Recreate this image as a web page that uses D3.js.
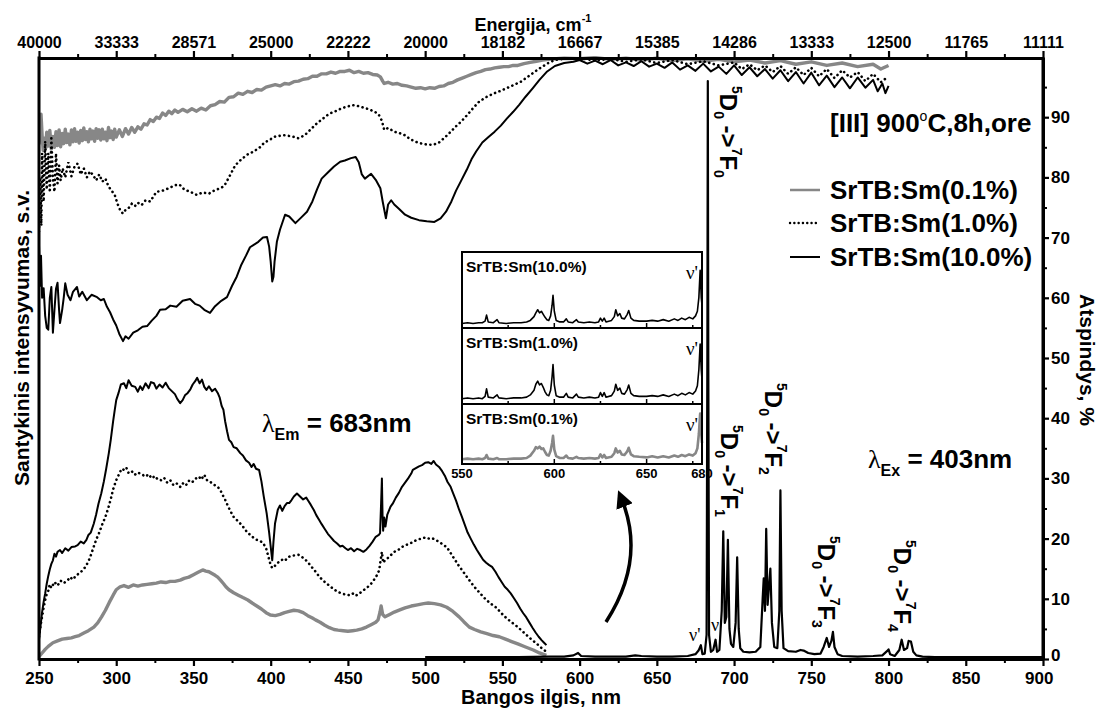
<!DOCTYPE html>
<html><head><meta charset="utf-8">
<script src="https://cdn.jsdelivr.net/npm/d3@7"></script>
<style>
body{margin:0;background:#fff}
svg{display:block;font-family:"Liberation Sans",Arial,sans-serif;font-weight:bold}
</style>
</head><body>
<svg id="c" width="1102" height="708"></svg>
<script>
// ---------------- DATA ----------------
const majorTicks = [250,300,350,400,450,500,550,600,650,700,750,800,850,900];
const minorTicks = [275,325,375,425,475,525,575,625,675,725,775,825,875];
const topTickLabels = ["40000","33333","28571","25000","22222","20000","18182","16667","15385","14286","13333","12500","11765","11111"];
const rightTicks = [0,10,20,30,40,50,60,70,80,90];
const rightMinor = [5,15,25,35,45,55,65,75,85,95];
const seriesNames = ["SrTB:Sm(0.1%)","SrTB:Sm(1.0%)","SrTB:Sm(10.0%)"];

// Reflectance (%), right axis
const reflGrey = [[250,85.5],[250.7,88.5],[251.3,90.5],[252,87],[252.7,84.5],[253.5,86.5],[254.3,84.8],[255,87.5],[256,85.2],[257,87.8],[258,84.7],[259,86.8],[260,85.0],[261,87.6],[262,85.3],[263,87.9],[264,85.1],[265,87.3],[266,85.6],[267,88.0],[268,85.8],[269,87.2],[270,85.4],[271,87.9],[272,85.9],[273,88.1],[274,86.0],[275,87.5],[276,85.7],[277,87.8],[278,86.1],[279,88.2],[280,86.3],[281,87.6],[282,85.9],[283,88.0],[284,86.4],[285,87.7],[286,86.0],[287,88.1],[288,86.5],[289,87.9],[290,86.2],[291,88.0],[292,86.4],[293,87.5],[294,86.1],[295,88.3],[296,86.6],[297,87.7],[298,86.3],[299,88.0],[300,86.7],[302,87.9],[304,86.8],[306,88.1],[308,87.2],[310,88.3],[312,87.5],[314,88.4],[316,88.0],[318,88.9],[320,88.7],[322,89.6],[324,89.3],[326,90.0],[328,89.8],[330,90.7],[332,90.3],[334,91.0],[336,90.6],[338,91.2],[340,90.8],[343,91.3],[346,90.9],[349,91.4],[352,91.0],[355,91.5],[358,91.2],[361,91.9],[364,92.1],[367,92.6],[370,92.5],[373,93.3],[376,93.4],[379,94.0],[382,93.8],[385,94.3],[388,94.1],[391,94.6],[394,94.5],[397,95.0],[400,95.2],[403,95.4],[406,95.2],[409,95.6],[412,95.5],[415,95.9],[418,96.0],[421,96.3],[424,96.4],[427,96.8],[430,96.8],[433,97.2],[436,97.2],[439,97.5],[442,97.3],[445,97.6],[448,97.6],[451,97.8],[454,97.4],[457,97.6],[460,97.3],[463,97.4],[466,97.1],[469,97.0],[471,96.7],[472.5,96.0],[473.5,95.6],[476,95.8],[479,95.5],[482,95.6],[485,95.3],[488,95.2],[491,95.0],[494,94.8],[497,94.9],[500,94.7],[503,94.9],[506,94.8],[509,95.1],[512,95.2],[515,95.6],[518,95.8],[521,96.2],[524,96.5],[527,96.8],[530,97.1],[533,97.4],[536,97.6],[539,97.9],[542,98.0],[545,98.2],[548,98.3],[551,98.4],[554,98.4],[557,98.6],[560,98.6],[564,98.9],[568,99.1],[572,99.3],[576,99.5],[580,99.6],[585,99.7],[590,99.8],[600,99.7],[610,99.9],[620,99.6],[630,99.8],[640,99.5],[650,99.8],[660,99.4],[670,99.7],[680,99.3],[690,99.6],[700,99.2],[710,99.5],[720,99.0],[730,99.4],[740,98.8],[750,99.2],[760,98.6],[770,99.0],[780,98.4],[790,98.8],[795,98.0],[800,98.6]];

const reflDot = [[250,71],[250.8,80],[251.5,72],[252,84],[253,76],[254,86],[255,78],[256,84],[257,77.5],[258,86.5],[259,80],[260,77.6],[261,84],[262,79],[263,82],[264,79.5],[265.3,81.5],[267,80],[269,82.5],[271,80.2],[273,81.8],[275,82.3],[277,80.5],[279,81.5],[281,80],[283,81],[285,80.4],[287,79.5],[289,80.5],[291,79.3],[293,79.8],[295,78.5],[297,77.8],[299,77.1],[301,75.5],[303,74.3],[304.5,74],[306,74.6],[308,74.9],[310,75.6],[312,75.2],[314,75.8],[316.4,75.4],[319,76.2],[322,76.0],[326,77.6],[330,77.8],[334,78.2],[338,78.7],[341,78.8],[344,78.0],[348,77.6],[352,77.1],[356,77.5],[360,77.3],[364,77.9],[367.5,78.2],[370,78.6],[374,80.5],[377,82],[381,83.0],[385,83.8],[389,84.3],[393,85.0],[396,85.8],[399,86.2],[403,86.8],[409,87],[414,86.8],[418,86.5],[422,87.0],[426,88.0],[430,89.0],[434,89.8],[438,90.6],[442,91.0],[446,91.5],[450,91.8],[453,92],[456,91.9],[460,91.6],[464,91.3],[468,90.8],[470,90.4],[472,89.4],[473.5,87.9],[476,88.2],[480,87.6],[484,87.3],[487,87],[490,86.4],[493,86.0],[496.5,85.7],[500,85.5],[505,85.4],[509,85.8],[513,86.7],[517,87.7],[520,88.5],[523,89.2],[527,90.3],[531,91.5],[535,92.6],[540,93.4],[545,94.0],[550,94.5],[556,95.2],[562,95.9],[568,97.0],[574,98.1],[579,98.9],[584,99.5],[590,99.7],[600,99.8],[610,99.4],[620,99.7],[630,99.2],[640,99.6],[650,99.0],[660,99.5],[670,98.8],[680,99.3],[690,98.6],[700,99.1],[705,98.0],[710,98.8],[715,97.8],[720,98.6],[725,97.5],[730,98.5],[735,97.2],[740,98.3],[745,97.0],[750,98.2],[755,96.8],[760,98.0],[765,96.5],[770,97.8],[775,96.6],[780,97.5],[785,96.0],[790,97.2],[795,95.8],[800,96.8]];

const reflSolid = [[250,68.8],[250.7,62],[251.3,67],[252,60],[253,61.6],[254,57],[255,55],[256,54.7],[257,60],[258,61.8],[259,54.2],[260,58],[261,61.5],[262,62.5],[263,58],[263.6,55.8],[265,58],[266,60],[267,62.4],[268.5,60.5],[270.4,59.6],[272,61],[274.6,61.8],[276,60.2],[278,61],[281,59.6],[284,60.5],[287.6,60.1],[290,59.6],[292,59.8],[294,58.5],[296,57.6],[298,56.4],[300,55.4],[302,54],[304.4,52.8],[306,53.6],[308,53.2],[311,54.2],[314,54.6],[317,55.2],[320,55.3],[323,56.2],[326,57.0],[328.4,58],[332,58.1],[335,58.7],[339,58.5],[343,59.5],[347.8,59.8],[351,59.0],[354,58.7],[357,58.0],[360.7,57.5],[364,58.6],[368,59.5],[371.7,60.1],[375,62.0],[378,63.5],[381,65.5],[384,67.0],[386.6,68.4],[389,68.8],[392,69.3],[395,70.0],[397.6,70.1],[399,68.5],[400,66],[401,62.7],[401.8,63.5],[402.5,66],[404,69.3],[406,71.3],[409.3,73.8],[412,73.5],[416,72.4],[420,73.4],[423.5,74.3],[427,76],[430,78],[433,79.8],[437,80.8],[441,81.8],[445,82.6],[448,82.8],[452,83.2],[455,83.4],[457,82.5],[459,80.5],[461,79.8],[465,80.6],[468,79.6],[471,78.2],[472.5,76],[474.6,73.2],[476,75.5],[478,76.2],[480,75.5],[483,74.8],[487,73.8],[491,73.3],[496,72.9],[501,72.7],[506,72.6],[510,73.2],[513.5,74.3],[517,76],[520,77.8],[523,79.3],[527,81.3],[530,83],[533,84.3],[537,85.8],[541,86.7],[545,87.6],[549,88.6],[553,89.8],[557,90.9],[561,92.1],[565,93.4],[569.6,94.8],[574,96.2],[579,97.6],[584,98.5],[590,99.0],[596,99.2],[600,99.5],[605,98.9],[610,99.4],[615,98.8],[620,99.5],[625,98.6],[630,99.1],[635,98.5],[640,99.3],[645,98.4],[650,98.9],[655,98.2],[660,99.1],[665,97.9],[670,98.6],[675,97.7],[680,98.9],[685,97.6],[690,98.4],[695,97.2],[700,98.6],[705,97.0],[710,98.3],[715,96.8],[720,98.0],[725,96.4],[730,97.8],[735,96.0],[740,97.5],[745,95.6],[750,97.4],[755,95.3],[760,96.9],[765,95.0],[770,96.6],[775,94.8],[780,96.6],[785,94.9],[790,96.2],[793,94.3],[796,95.6],[798,94.0],[800,95.2]];

// Excitation spectra (lambda_Em = 683 nm), relative intensity
const exSolid = [[250,3.2],[251,5.5],[252,7.8],[253,9.5],[254,10.9],[255,12.5],[256,13.8],[257,14.9],[258,15.8],[259,16.4],[260,17.5],[261,17.0],[262,17.8],[263.6,18.1],[265,17.6],[267,18.4],[269,18.0],[271,18.6],[273.4,18.7],[275,18.9],[277,19.5],[279,19.2],[280.7,19.8],[282,20.6],[283.5,21.0],[285.5,22.5],[287,24.0],[288.5,25.8],[290.3,27.5],[292,29.5],[293.5,31.6],[295.2,34.2],[296.5,36.5],[298,39.5],[299,41.3],[300,43],[301.5,44.2],[303,45.6],[305,45.8],[306.5,45.0],[308,46.3],[310,45.4],[312.3,45.2],[314,44.4],[315.5,45.3],[317,44.7],[319,45.8],[321,45.0],[322.5,46.0],[324.4,45.8],[326,44.9],[328,45.6],[330,45.1],[332,45.9],[334,45.0],[336,44.5],[338,44.0],[339.5,43.2],[341.4,42.5],[343,43.0],[344.5,43.8],[346.3,44.2],[348,44.8],[349.5,45.6],[351,46.1],[352.4,46.7],[354,45.8],[355.5,46.4],[357,45.2],[358.4,44.7],[360,45.3],[362,44.5],[364,44.9],[365.7,44.2],[367,43.4],[368.3,42.0],[369.4,41.4],[370.5,39.5],[371.8,37.8],[373,36.4],[374.5,36.0],[376,35.2],[378,35.0],[380.3,34.2],[382,33.8],[384,33.0],[386,32.6],[387.6,31.9],[389,32.4],[390.5,31.6],[392.5,31.4],[394,29.5],[395.5,27.0],[397.4,24.2],[399,21.0],[400.3,18.0],[401,16.4],[401.8,19.5],[402.8,22.5],[404.6,24.8],[406,25.5],[407.5,24.6],[409,25.4],[410.5,25.9],[412,25.9],[413.5,26.4],[415,27.0],[417,27.5],[419,27.0],[421,26.5],[423,26.8],[424,26.4],[426,25.6],[428,24.7],[429.5,23.9],[431.4,23.1],[433,22.4],[435,21.6],[437,20.8],[438.7,20.3],[441,19.6],[443,19.2],[445,18.7],[446.5,18.8],[448.4,18.4],[450,18.1],[452,18.4],[454,17.9],[456,18.3],[458,18.1],[460,17.8],[462,18.2],[464,18.8],[466,19.5],[468,20.3],[470,20.6],[470.8,20.9],[471.5,26],[472,30],[472.4,24],[472.8,21.3],[473.5,23.5],[474.3,22.0],[475.5,24.0],[477.6,25.3],[479,25.8],[481,26.8],[483,27.6],[485,28.6],[487,29.3],[489,30.0],[491,30.8],[492,31.4],[494,31.7],[496,32.0],[498,32.2],[500,32.6],[502,32.7],[504,32.4],[505.5,32.9],[507,32.3],[509,31.9],[511,31.2],[513,30.3],[514.5,29.4],[516.5,28.6],[518,27.6],[520,26.3],[522,24.8],[523.8,23.6],[525.5,22.4],[527.5,21.0],[529.5,20.0],[531.5,19.0],[533.5,18.1],[535.5,17.3],[537.5,16.5],[539.5,16.0],[541.5,15.6],[543.3,15.3],[545.5,14.5],[547.5,13.6],[549.5,12.8],[551.5,12.0],[553.5,11.5],[555.4,10.9],[557.5,10.1],[559.5,9.3],[561.5,8.4],[563.5,7.6],[565.5,6.9],[567.6,6.0],[569.5,5.2],[571.5,4.4],[573.5,3.7],[575.5,3.1],[577,2.7],[578.5,2.3]];

const exDot = [[250,3.7],[251,5.5],[252,7],[253,8.5],[254,9.8],[255,10.8],[256,11.3],[257,12.4],[258,11.8],[259,12.3],[260,12.8],[262,12.2],[264,13.0],[266,12.6],[268.7,13.1],[270,13.6],[272,13.2],[274,13.9],[276,14.2],[278.5,14.8],[280,15.3],[282,16.2],[283.5,17.2],[285.5,18.7],[287,19.8],[289,21.0],[291,22.4],[293,23.6],[295,25.2],[296.5,26.6],[298,28.2],[300,29.7],[302,30.8],[303.5,31.6],[305,31.4],[306.5,31.8],[308,30.9],[310,31.2],[312,30.6],[314,31.0],[317,30.6],[319,30.3],[321,30.7],[323,30.0],[325,30.4],[327,29.8],[329,29.7],[331,30.1],[333,29.3],[335,29.7],[337,28.9],[339,29.2],[341.4,28.6],[343,29.2],[345,28.8],[347,29.6],[349,29.3],[351,29.9],[353.6,30.3],[355,29.8],[357,30.6],[359,29.6],[361,29.4],[363,29.0],[365.7,28.6],[367.5,28.0],[369,27.2],[370.6,26.4],[372.5,25.3],[374.5,24.3],[376,23.6],[378,23.1],[380,22.6],[382,22.0],[383.5,21.5],[385.2,20.9],[387,20.6],[389,20.1],[391,19.8],[393,19.6],[395,19.3],[397,18.4],[398.5,17.0],[400,15.6],[401,15.1],[402.5,15.4],[404,15.9],[406,16.2],[408,16.6],[409.5,16.4],[411,16.9],[413,17.1],[415,17.2],[418,17.3],[420,17.0],[422,16.6],[424,16.1],[426.5,15.3],[428.5,14.7],[430.5,14.0],[432.5,13.4],[434.5,12.9],[436.5,12.5],[438.7,12.0],[441,11.6],[443,11.2],[445,11.0],[447,10.8],[449,10.7],[450.9,10.6],[453,10.9],[455,10.5],[457,10.8],[459,11.2],[461,11.6],[463,12.0],[465,12.5],[467,13.2],[469,14.0],[470.3,14.8],[471.2,16.5],[472,17.8],[472.8,16.0],[474,16.4],[476,16.8],[478,17.3],[480,17.8],[482.5,18.1],[485,18.6],[487.5,18.9],[490,19.2],[492,19.4],[494,19.7],[496,19.9],[498,20.0],[500,20.2],[502,20.0],[504,20.1],[506,19.9],[508,19.6],[510,19.3],[512,18.9],[514,18.6],[516,17.8],[518,17.0],[520,16.2],[522,15.4],[523.8,14.8],[526,14.0],[528,13.3],[530,12.6],[531.8,12.0],[533.5,11.5],[536,10.8],[538.5,10.1],[541,9.5],[543.5,9.0],[545.7,8.6],[548,8.0],[550.5,7.3],[553,6.7],[555.5,6.2],[558,5.7],[560,5.3],[563,4.6],[566,3.9],[569,3.2],[572,2.6],[575,1.9],[578.5,1.2]];

const exGrey = [[250,0.4],[252,1.0],[254,1.6],[256,2.1],[259,2.7],[262,3.0],[265,3.3],[268,3.4],[271,3.5],[273.4,3.7],[276,3.9],[279,4.3],[282,4.7],[285.5,5.3],[288,6.0],[290.5,7.0],[293,8.1],[295.5,9.4],[298,10.6],[300,11.5],[302.5,12.0],[305,12.2],[308,11.9],[311,12.3],[314,12.1],[317,12.3],[320,12.4],[323,12.5],[326,12.6],[329,12.8],[332,12.7],[335,12.9],[338,12.9],[341.4,13.1],[344,13.4],[347,13.6],[350,14.0],[353,14.4],[356,14.8],[358,14.6],[360,14.5],[362,14.2],[364,13.9],[365.7,13.6],[367.5,13.1],[369.5,12.5],[371,12.0],[373,11.5],[376,11.0],[379,10.6],[382,10.2],[385.2,9.8],[388,9.3],[391,8.8],[394,8.3],[397,7.7],[399.8,7.3],[403,7.2],[406,7.4],[409,7.7],[412,7.9],[415,8.1],[418,8.0],[421,7.7],[424,7.2],[427,6.8],[429,6.5],[432,6.1],[435,5.6],[438,5.2],[441,4.9],[443.6,4.8],[447,4.7],[450,4.6],[453,4.7],[455.7,4.8],[459,5.0],[462,5.3],[465,5.7],[468,6.1],[469.5,6.5],[470.8,7.8],[471.5,8.8],[472.5,7.4],[474,7.0],[477,7.4],[480,7.8],[484,8.2],[487,8.5],[491,8.8],[495,9.0],[499,9.2],[502,9.3],[506,9.2],[510,9.0],[514,8.6],[518,7.9],[522,7.0],[525,6.2],[528.6,5.3],[532,4.9],[536,4.5],[540,4.2],[544,3.9],[548,3.7],[552,3.3],[556,2.9],[560,2.5],[565,2.0],[570,1.5],[574,1.0],[578.5,0.6]];

// Emission spectrum (lambda_Ex = 403 nm), 10.0%
const emission = [[500,0.3],[540,0.3],[560,0.3],[580,0.4],[590,0.4],[596,0.6],[599,1.0],[601,0.5],[610,0.4],[630,0.4],[636,0.6],[640,0.5],[650,0.4],[660,0.4],[670,0.5],[675,0.8],[677,1.4],[678.5,2.3],[679.5,0.8],[681,0.9],[682.2,4],[682.7,50],[683,96],[683.3,50],[683.8,4],[685,1.2],[686.5,1.5],[688,3.2],[689,1.2],[690.5,1.5],[692,8],[693,21.2],[694,6],[695,7],[696,19.8],[697,5],[698,2.5],[699.5,2],[701,6],[702,16.9],[703,5],[704,1.8],[706,1.2],[710,1.1],[714,1.2],[717,2],[718.5,10],[719.2,13.4],[720,8],[720.8,21.6],[721.7,9],[722.6,12],[723.5,15],[724.5,6],[726,2],[728,1.8],[729.3,8],[730,28],[730.8,8],[732,1.8],[735,1.3],[740,1.2],[743,1.5],[745,1.4],[748,1.0],[752,0.8],[756,0.9],[758,2],[760,3.5],[761.5,2],[763,3],[764,4.5],[765,2],[767,0.8],[770,0.5],[780,0.4],[790,0.5],[796,0.6],[799,1.3],[800,1.6],[801,0.8],[804,0.5],[807,1.5],[808.5,3.2],[810,1.5],[812,1.8],[813,3],[814.5,2.9],[816,1.2],[818,0.6],[822,0.4],[830,0.3],[850,0.3],[870,0.3],[900,0.3]];

// Inset (550-680 nm), % of panel height
const inset10 = [[550,6],[553,7],[556,6],[559,7],[561,7],[562.5,9],[563.3,17],[564.2,8],[567,7],[569,11],[570,7],[574,6],[578,7],[582,7],[585,8],[587,10],[589,15],[590,20],[591,24],[592,20],[593,22],[594,18],[595,14],[596,11],[597,10],[598,16],[598.8,30],[599.3,43],[600,22],[601,10],[603,8],[605,8],[606.5,12],[607.5,8],[610,7],[612,11],[613,8],[616,7],[619,8],[622,7],[624,8],[625,13],[626,9],[627,13],[628,8],[631,10],[632.5,15],[633.3,24],[634.3,16],[635.5,19],[636.5,13],[638,12],[639.5,18],[640.3,23],[641.5,13],[643,10],[646,9],[650,9],[653,10],[656,9],[659,11],[662,9],[665,12],[667,10],[669,13],[671,11],[673,14],[675,12],[676.5,16],[677.5,22],[678.3,40],[679,76],[679.6,40],[680,30]];
const inset1 = [[550,7],[553,8],[556,7],[559,8],[561,7],[562.5,10],[563.3,20],[564.2,9],[567,8],[569,12],[570,8],[574,7],[578,8],[582,8],[585,9],[587,12],[589,18],[590,26],[591,30],[592,25],[593,27],[594,22],[595,16],[596,12],[597,11],[598,18],[598.8,36],[599.3,52],[600,25],[601,11],[603,9],[605,9],[606.5,14],[607.5,9],[610,8],[612,13],[613,9],[616,8],[619,9],[622,8],[624,9],[625,15],[626,10],[627,15],[628,9],[631,11],[632.5,17],[633.3,26],[634.3,18],[635.5,21],[636.5,14],[638,13],[639.5,19],[640.3,25],[641.5,14],[643,11],[646,10],[650,10],[653,11],[656,10],[659,12],[662,10],[665,13],[667,11],[669,14],[671,12],[673,15],[675,13],[676.5,17],[677.5,24],[678.3,45],[679,79],[679.6,45],[680,32]];
const inset01 = [[550,8],[553,9],[556,8],[559,9],[561,8],[562.5,10],[563.3,15],[564.2,9],[567,8],[569,10],[570,8],[574,8],[578,9],[582,9],[585,10],[587,14],[589,22],[590,28],[591,26],[592,29],[593,25],[594,26],[595,20],[596,15],[597,14],[598,22],[598.8,35],[599.3,47],[600,24],[601,13],[603,10],[605,10],[606.5,14],[607.5,10],[610,9],[612,12],[613,10],[616,9],[619,10],[622,9],[624,10],[625,16],[626,11],[627,15],[628,10],[631,12],[632.5,18],[633.3,26],[634.3,19],[635.5,22],[636.5,16],[638,15],[639.5,21],[640.3,27],[641.5,16],[643,13],[646,12],[650,11],[653,13],[656,11],[659,13],[662,11],[665,14],[667,12],[669,15],[671,13],[673,16],[675,14],[676.5,18],[677.5,26],[678.3,50],[679,84],[679.6,50],[680,35]];
const insetTicks = [550,600,650,680];
const insetMinor = [575,625,675];

// ---------------- CHART ----------------
const svg = d3.select("#c");
svg.append("rect").attr("width",1102).attr("height",708).attr("fill","#fff");

const L=39, R=1043, T=58, B=659;
const x = d3.scaleLinear().domain([250,900]).range([L,R]);
const y = d3.scaleLinear().domain([0,100]).range([B,T-1]);
const GREY = "#878787";

const line = d3.line().x(d=>x(d[0])).y(d=>y(d[1]));

const plot = svg.append("g");
plot.append("clipPath").attr("id","clip").append("rect").attr("x",L).attr("y",T-2).attr("width",R-L).attr("height",B-T+4);
const pg = plot.append("g").attr("clip-path","url(#clip)");

function drawSeries(data, style){
  const p = pg.append("path").datum(data).attr("d",line).attr("fill","none");
  if(style==="grey") p.attr("stroke",GREY).attr("stroke-width",3.4).attr("stroke-linejoin","round");
  else if(style==="dot") p.attr("stroke","#000").attr("stroke-width",2.6).attr("stroke-dasharray","0.1 4.6").attr("stroke-linecap","round");
  else p.attr("stroke","#000").attr("stroke-width",2).attr("stroke-linejoin","round");
}
drawSeries(reflGrey,"grey");
drawSeries(exGrey,"grey");
drawSeries(reflDot,"dot");
drawSeries(exDot,"dot");
drawSeries(reflSolid,"solid");
drawSeries(exSolid,"solid");

// ---------------- INSET ----------------
const IL=462, IR=702;
const panelTops=[252,328,404], panelBots=[328,404,464];
const xi = d3.scaleLinear().domain([550,680]).range([IL,IR]);
const inset = svg.append("g");
inset.append("rect").attr("x",IL).attr("y",panelTops[0]).attr("width",IR-IL).attr("height",panelBots[2]-panelTops[0]).attr("fill","#fff");
const insetData=[inset10,inset1,inset01];
const insetLabels=["SrTB:Sm(10.0%)","SrTB:Sm(1.0%)","SrTB:Sm(0.1%)"];
insetData.forEach((d,i)=>{
  const yi = d3.scaleLinear().domain([0,100]).range([panelBots[i],panelTops[i]]);
  const ln = d3.line().x(p=>xi(p[0])).y(p=>yi(p[1]));
  inset.append("path").datum(d).attr("d",ln).attr("fill","none")
    .attr("stroke", i===2?GREY:"#000").attr("stroke-width", i===2?2.6:1.6).attr("stroke-linejoin","round");
  inset.append("text").attr("x",IL+4).attr("y",panelTops[i]+20).attr("font-size",15.5).text(insetLabels[i]);
  inset.append("text").attr("x",IR-16).attr("y",panelTops[i]+27).attr("font-family","Liberation Serif, Times New Roman, serif")
    .attr("font-weight","normal").attr("font-size",19).text("ν'");
  insetTicks.concat(insetMinor).forEach(t=>{
    inset.append("line").attr("x1",xi(t)).attr("x2",xi(t)).attr("y1",panelBots[i]).attr("y2",panelBots[i]-(insetMinor.includes(t)?3:5)).attr("stroke","#000").attr("stroke-width",1.5);
  });
});
inset.append("rect").attr("x",IL).attr("y",panelTops[0]).attr("width",IR-IL).attr("height",panelBots[2]-panelTops[0]).attr("fill","none").attr("stroke","#000").attr("stroke-width",2);
[328,404].forEach(yy=>inset.append("line").attr("x1",IL).attr("x2",IR).attr("y1",yy).attr("y2",yy).attr("stroke","#000").attr("stroke-width",1.8));
insetTicks.forEach(t=>inset.append("text").attr("x",xi(t)).attr("y",panelBots[2]+14).attr("text-anchor","middle").attr("font-size",13).text(t));

// emission drawn on top
pg.append("path").datum(emission).attr("d",line).attr("fill","none").attr("stroke","#000").attr("stroke-width",2.2).attr("stroke-linejoin","round");

// ---------------- AXES ----------------
function styleAxis(g,fs){
  g.select(".domain").attr("stroke-width",3);
  g.selectAll(".tick line").attr("stroke-width",2.2);
  g.selectAll(".tick text").attr("font-family","Liberation Sans, Arial, sans-serif").attr("font-weight","bold").attr("font-size",fs).attr("fill","#000");
}
const axB = svg.append("g").attr("transform",`translate(0,${B})`)
  .call(d3.axisBottom(x).tickValues(majorTicks).tickSize(7).tickSizeOuter(0).tickPadding(6).tickFormat(d3.format("d")));
styleAxis(axB,17);
// keep the last bottom label clear of the right-axis "0"
axB.selectAll(".tick text").filter(d=>d===900).attr("dx","-0.25em");
const axBm = svg.append("g").attr("transform",`translate(0,${B})`).call(d3.axisBottom(x).tickValues(minorTicks).tickSize(4).tickFormat(""));
axBm.select(".domain").remove(); axBm.selectAll(".tick line").attr("stroke-width",2);

const axT = svg.append("g").attr("transform",`translate(0,${T})`)
  .call(d3.axisTop(x).tickValues(majorTicks).tickSize(7).tickSizeOuter(0).tickPadding(3).tickFormat((d,i)=>topTickLabels[i]));
styleAxis(axT,16);
const axTm = svg.append("g").attr("transform",`translate(0,${T})`).call(d3.axisTop(x).tickValues(minorTicks).tickSize(4).tickFormat(""));
axTm.select(".domain").remove(); axTm.selectAll(".tick line").attr("stroke-width",2);

const axR = svg.append("g").attr("transform",`translate(${R},0)`)
  .call(d3.axisRight(y).tickValues(rightTicks).tickSize(6).tickSizeOuter(0).tickPadding(2).tickFormat(d3.format("d")));
styleAxis(axR,17);
axR.selectAll(".tick text").filter(d=>d===0).attr("dy","0.1em");
const axRm = svg.append("g").attr("transform",`translate(${R},0)`).call(d3.axisRight(y).tickValues(rightMinor).tickSize(4).tickFormat(""));
axRm.select(".domain").remove(); axRm.selectAll(".tick line").attr("stroke-width",2);
svg.append("line").attr("x1",R).attr("x2",R).attr("y1",T).attr("y2",B).attr("stroke","#000").attr("stroke-width",3);
svg.append("line").attr("x1",L).attr("x2",L).attr("y1",T-1.5).attr("y2",B+1.5).attr("stroke","#000").attr("stroke-width",3);

// ---------------- TITLES ----------------
const tT = svg.append("text").attr("x",533).attr("y",31).attr("text-anchor","middle").attr("font-size",18);
tT.append("tspan").text("Energija, cm");
tT.append("tspan").attr("dy",-9).attr("font-size",11).text("-1");
svg.append("text").attr("x",541).attr("y",704).attr("text-anchor","middle").attr("font-size",20).text("Bangos ilgis, nm");
svg.append("text").attr("transform","translate(29,338) rotate(-90)").attr("text-anchor","middle").attr("font-size",21).text("Santykinis intensyvumas, s.v.");
svg.append("text").attr("transform","translate(1080,360) rotate(90)").attr("text-anchor","middle").attr("font-size",21).text("Atspindys, %");

// ---------------- LEGEND ----------------
const legY=[190,223,257];
legY.forEach((yy,i)=>{
  const l = svg.append("line").attr("x1",790).attr("x2",820).attr("y1",yy).attr("y2",yy);
  if(i===0) l.attr("stroke",GREY).attr("stroke-width",2.5);
  else if(i===1) l.attr("stroke","#000").attr("stroke-width",2.4).attr("stroke-dasharray","0.1 4.2").attr("stroke-linecap","round");
  else l.attr("stroke","#000").attr("stroke-width",2);
  svg.append("text").attr("x",830).attr("y",yy+9).attr("font-size",26).text(seriesNames[i]);
});
const hdr = svg.append("text").attr("x",830).attr("y",132).attr("font-size",26);
hdr.append("tspan").text("[III] 900");
hdr.append("tspan").attr("dy",-11).attr("font-size",14).attr("font-weight","normal").text("o");
hdr.append("tspan").attr("dy",11).text("C,8h,ore");

// lambda labels
function lambdaLabel(xx,yy,sub,rest){
  const t = svg.append("text").attr("x",xx).attr("y",yy).attr("font-size",26);
  t.append("tspan").attr("font-family","Liberation Serif, Times New Roman, serif").attr("font-weight","normal").text("λ");
  t.append("tspan").attr("dy",8).attr("font-size",16).text(sub);
  t.append("tspan").attr("dy",-8).text(rest);
}
lambdaLabel(262,432,"Em"," = 683nm");
lambdaLabel(868,468,"Ex"," = 403nm");

// transition labels (rotated)
function trans(xx,yy,fin){
  const t = svg.append("text").attr("transform",`translate(${xx},${yy}) rotate(90)`).attr("font-size",24);
  t.append("tspan").attr("dy",-12).attr("font-size",14).text("5");
  t.append("tspan").attr("dy",12).text("D");
  t.append("tspan").attr("dy",6).attr("font-size",14).text("0");
  t.append("tspan").attr("dy",-6).text(" ->");
  t.append("tspan").attr("dy",-12).attr("font-size",14).text("7");
  t.append("tspan").attr("dy",12).text("F");
  t.append("tspan").attr("dy",6).attr("font-size",14).text(fin);
}
trans(720,86,"0");
trans(721,425,"1");
trans(765,383,"2");
trans(818,536,"3");
trans(894,540,"4");

// nu labels
svg.append("text").attr("x",689).attr("y",641).attr("font-family","Liberation Serif, Times New Roman, serif").attr("font-size",18).attr("font-weight","normal").text("ν'");
svg.append("text").attr("x",711).attr("y",631).attr("font-family","Liberation Serif, Times New Roman, serif").attr("font-size",18).attr("font-weight","normal").text("ν");

// curved arrow
svg.append("defs").append("marker").attr("id","ah").attr("viewBox","0 0 10 10").attr("refX",4).attr("refY",5)
  .attr("markerWidth",5).attr("markerHeight",5).attr("orient","auto")
  .append("path").attr("d","M0,0 L10,5 L0,10 z").attr("fill","#000");
svg.append("path").attr("d","M606,622 Q646,560 622,500").attr("fill","none").attr("stroke","#000").attr("stroke-width",3.5).attr("marker-end","url(#ah)");
</script>
</body></html>
